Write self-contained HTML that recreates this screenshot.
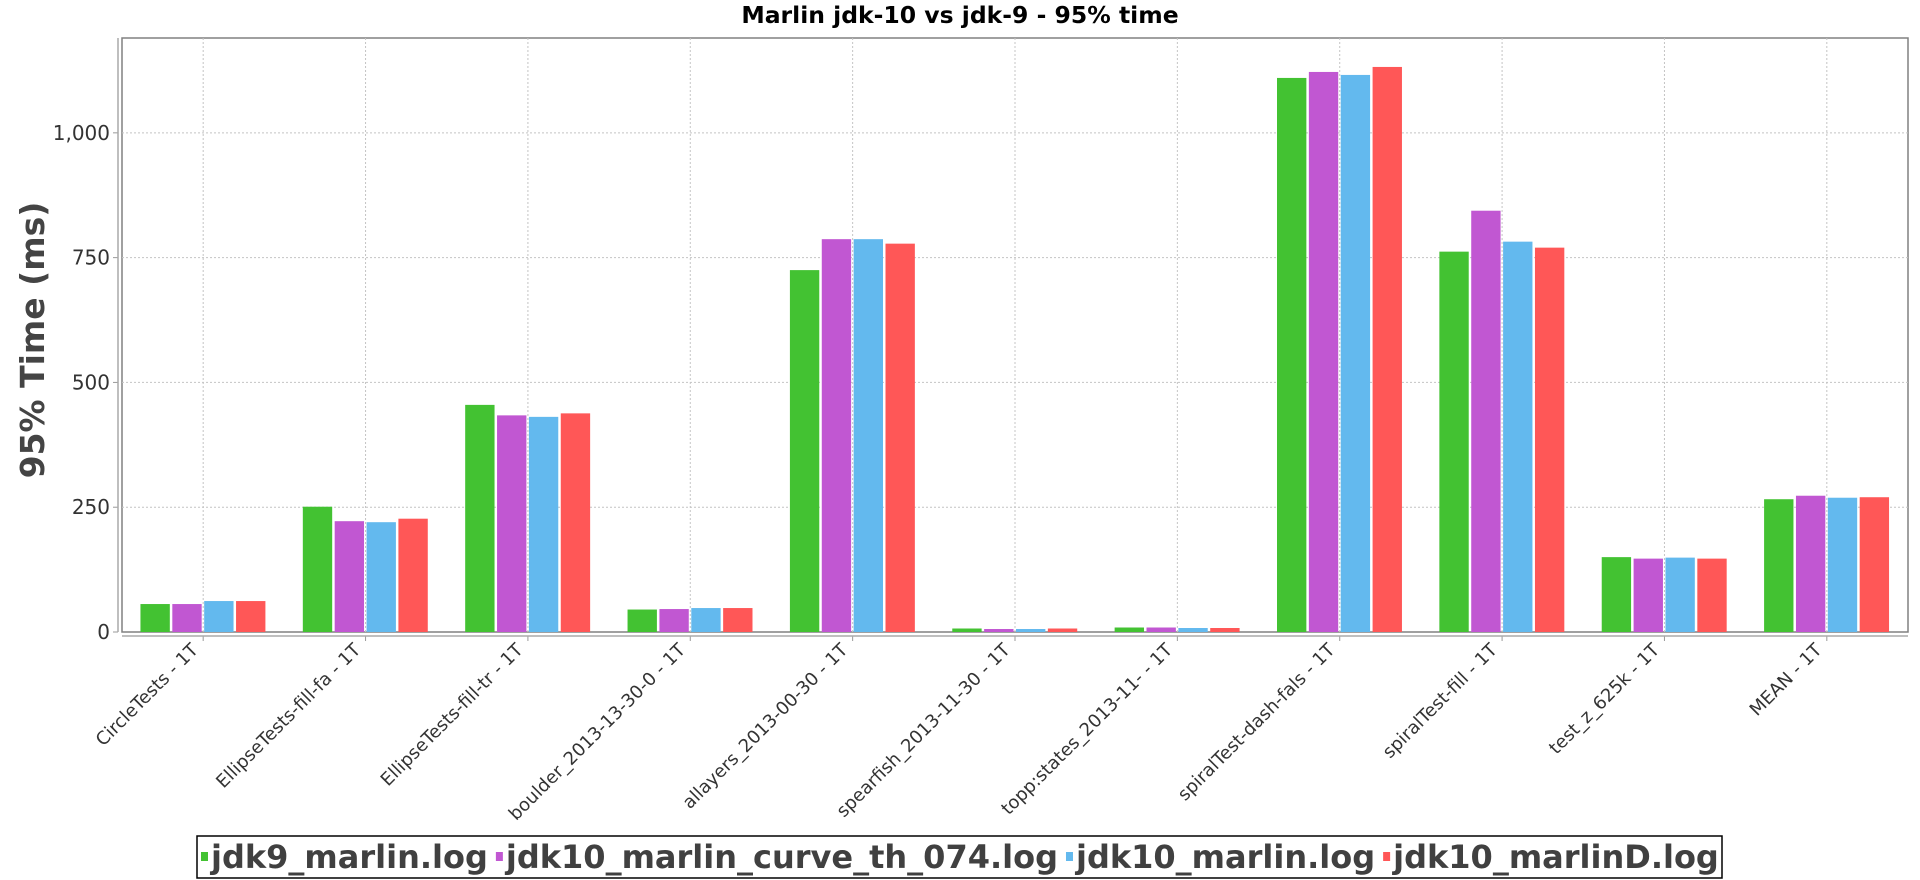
<!DOCTYPE html>
<html><head><meta charset="utf-8"><style>
html,body{margin:0;padding:0;background:#fff;width:1920px;height:880px;overflow:hidden}
svg{display:block;font-family:"Liberation Sans","DejaVu Sans",sans-serif}
</style></head><body>
<svg id="chart" width="1920" height="880" xmlns="http://www.w3.org/2000/svg">
<text x="960" y="23" text-anchor="middle" font-size="23.5" font-weight="bold" font-family="DejaVu Sans, sans-serif">Marlin jdk-10 vs jdk-9 - 95% time</text>
<text transform="translate(44,340) rotate(-90)" text-anchor="middle" font-size="33" font-weight="bold" fill="#444" font-family="DejaVu Sans, sans-serif">95% Time (ms)</text>
<g id="grid"></g><g id="bars"></g><g id="axes"></g>
<g>
<rect x="197" y="836" width="1525" height="42" fill="#fff" stroke="#000" stroke-width="1.5"/>
<g id="legend"></g>
</g>
</svg>
<script>
const categories=["CircleTests - 1T","EllipseTests-fill-fa - 1T","EllipseTests-fill-tr - 1T","boulder_2013-13-30-0 - 1T","allayers_2013-00-30 - 1T","spearfish_2013-11-30 - 1T","topp:states_2013-11- - 1T","spiralTest-dash-fals - 1T","spiralTest-fill - 1T","test_z_625k - 1T","MEAN - 1T"];
const seriesNames=["jdk9_marlin.log","jdk10_marlin_curve_th_074.log","jdk10_marlin.log","jdk10_marlinD.log"];
const jdk9=[56,251,455,45,725,7,9,1110,762,150,266];
const jdk10Curve=[56,222,434,46,787,6,9,1122,844,147,273];
const jdk10=[62,220,431,48,787,6,8,1116,782,149,269];
const jdk10D=[62,227,438,48,778,7,8,1132,770,147,270];
const yTicks=[0,250,500,750,1000];
const yTickLabels=["0","250","500","750","1,000"];
const colors=["#43c232","#c157d2","#63b9ee","#ff5757"];
const series=[jdk9,jdk10Curve,jdk10,jdk10D];
const NS="http://www.w3.org/2000/svg";
const L=122,R=1908,T=38,B=632,YMAX=1190;
const y=v=>B-(v/YMAX)*(B-T);
const cw=(R-L)/categories.length;
const xc=i=>L+cw*(i+0.5);
function mk(p,tag,at,txt){const e=document.createElementNS(NS,tag);for(const k in at)e.setAttribute(k,at[k]);if(txt!=null)e.textContent=txt;p.appendChild(e);return e;}
const grid=document.getElementById('grid'),bars=document.getElementById('bars'),axes=document.getElementById('axes'),leg=document.getElementById('legend');
mk(grid,'rect',{x:L,y:T,width:R-L,height:B-T,fill:'#fff',stroke:'#808080','stroke-width':1.5});
yTicks.forEach((t,i)=>{
  if(t>0){const g=mk(grid,'line',{x1:L,x2:R,y1:y(t),y2:y(t),stroke:'#c4c4c4','stroke-dasharray':'2,2'});
  
  }
  const tk=mk(axes,'line',{x1:113,x2:118,y1:y(t),y2:y(t),stroke:'#999'});
  
  
  const tl=mk(axes,'text',{x:110,y:y(t)+7,'text-anchor':'end','font-size':20,fill:'#333','font-family':'DejaVu Sans, sans-serif'},yTickLabels[i]);
  
  
});
categories.forEach((c,i)=>{
  const g=mk(grid,'line',{x1:xc(i),x2:xc(i),y1:T,y2:B,stroke:'#c4c4c4','stroke-dasharray':'2,2'});
  
  
  const tk=mk(axes,'line',{x1:xc(i),x2:xc(i),y1:636,y2:641,stroke:'#999'});
  
  
  const tl=mk(axes,'text',{transform:`translate(${xc(i)-4},${651}) rotate(-45)`,'text-anchor':'end','font-size':18,fill:'#333','font-family':'DejaVu Sans, sans-serif'},c);
  
  
});
mk(axes,'line',{x1:118,x2:118,y1:T,y2:B,stroke:'#aaa','stroke-width':1.5});
mk(axes,'line',{x1:L,x2:R,y1:636,y2:636,stroke:'#aaa','stroke-width':1.5});
const groupW=cw*0.785,bw=groupW/4;
series.forEach((s,si)=>{
  s.forEach((v,i)=>{
    const x=xc(i)-groupW/2+si*bw;
    const r=mk(bars,'rect',{x:x+1,y:y(v),width:bw-2.5,height:B-y(v),fill:colors[si]});
    
    
  });
});
let lx=201;
seriesNames.forEach((n,si)=>{
  const sq=mk(leg,'rect',{x:lx,y:852,width:7,height:9,fill:colors[si]});
  
  
  const t=mk(leg,'text',{x:lx+10,y:868,'font-size':32,'font-weight':'bold',fill:'#404040','font-family':'DejaVu Sans, sans-serif'},n);
  
  
  lx+=t.getComputedTextLength()+18;
});
</script>
</body></html>
